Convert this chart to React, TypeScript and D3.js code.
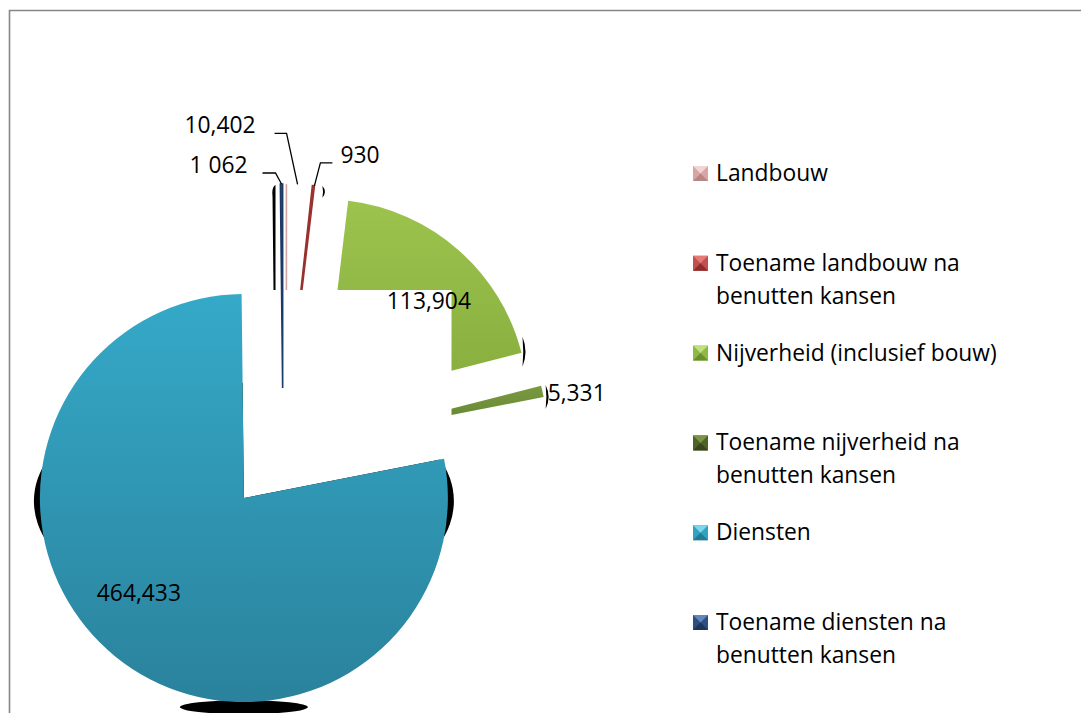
import React from "react"
import * as d3 from "d3"

// data
const categories = [
  "Landbouw",
  "Toename landbouw na benutten kansen",
  "Nijverheid (inclusief bouw)",
  "Toename nijverheid na benutten kansen",
  "Diensten",
  "Toename diensten na benutten kansen",
]
const legendLines = [
  ["Landbouw"],
  ["Toename landbouw na", "benutten kansen"],
  ["Nijverheid (inclusief bouw)"],
  ["Toename nijverheid na", "benutten kansen"],
  ["Diensten"],
  ["Toename diensten na", "benutten kansen"],
]
const values = [10402, 930, 113904, 5331, 464433, 1062]
const valueLabels = ["10,402", "930", "113,904", "5,331", "464,433", "1 062"]

// slice fills: [top, bottom]
const sliceFills = [
  ["#ffffff", "#ffffff"],
  ["#b03a37", "#98302d"],
  ["#9cc34d", "#86ad3d"],
  ["#7a9a40", "#5f7d2e"],
  ["#35a9c8", "#2a829c"],
  ["#2a4f80", "#1c3a66"],
]
// legend swatch: [face, top, bottom]
const swatchFills = [
  ["#d9a5a4", "#f2d4d3", "#b98584"],
  ["#c0504d", "#e57a77", "#8e2d2b"],
  ["#8fb847", "#bfe07a", "#6a8f2e"],
  ["#4f6228", "#7d9445", "#38461b"],
  ["#31a2c0", "#7cd6ec", "#207b93"],
  ["#2c4e80", "#6287bd", "#1b355c"],
]

const W = 1081
const H = 713
const R = 204
const explode = 62
const cx = 283
const cy = 450
const font = "'Open Sans', 'DejaVu Sans', sans-serif"
const fs = 22.8

function crescent(x: number, y: number, h: number, w: number, dir: number) {
  return `M${x},${y - h / 2} Q${x + dir * w * 2},${y} ${x},${y + h / 2} Q${x + dir * w * 0.5},${y} ${x},${y - h / 2}Z`
}

export default function App() {
  const pie = d3
    .pie<number>()
    .sort(null)
    .value((d) => d)
    .startAngle(0)
    .endAngle(2 * Math.PI)
  const arcs = pie(values)
  const arcGen = d3.arc<d3.PieArcDatum<number>>().innerRadius(0).outerRadius(R)
  const bigArc = d3.arc<d3.PieArcDatum<number>>().innerRadius(0).outerRadius(R + 30)

  const slices = arcs.map((a, i) => {
    const mid = (a.startAngle + a.endAngle) / 2
    const ox = cx + explode * Math.sin(mid)
    const oy = cy - explode * Math.cos(mid)
    const at = (ang: number, r: number) => [ox + r * Math.sin(ang), oy - r * Math.cos(ang)]
    return { a, i, mid, ox, oy, at, d: arcGen(a) as string }
  })

  const [land, landUp, nijv, nijvUp, dien, dienUp] = slices

  // leader lines for the small slices
  const tip0 = land.at(land.mid, R)
  const tip1 = landUp.at(landUp.a.endAngle, R)
  const tip5 = dienUp.at(dienUp.mid, R)
  const leaders = [
    { p: tip0, elbow: [tip0[0] - 11, tip0[1] - 51], end: [tip0[0] - 23, tip0[1] - 51], label: valueLabels[0], anchor: "end", tx: -31 },
    { p: tip1, elbow: [tip1[0] + 6, tip1[1] - 23], end: [tip1[0] + 18, tip1[1] - 23], label: valueLabels[1], anchor: "start", tx: 20 },
    { p: tip5, elbow: [tip5[0] - 6, tip5[1] - 11], end: [tip5[0] - 19, tip5[1] - 11], label: valueLabels[5], anchor: "end", tx: -28 },
  ]

  const nijvCorner = nijv.at(nijv.a.endAngle, R)
  const nijvUpTip = nijvUp.at(nijvUp.a.endAngle, R)

  return (
    <svg width={W} height={H} style={{ position: "absolute", left: 0, top: 0, background: "#fff" }} fontFamily={font}>
      <defs>
        {slices.map((s) => (
          <linearGradient key={s.i} id={"g" + s.i} x1="0" y1="0" x2="0" y2="1">
            <stop offset="0" stopColor={sliceFills[s.i][0]} />
            <stop offset="1" stopColor={sliceFills[s.i][1]} />
          </linearGradient>
        ))}
        {slices.map((s) => (
          <clipPath key={s.i} id={"c" + s.i}>
            <path d={s.d} transform={`translate(${s.ox},${s.oy})`} />
          </clipPath>
        ))}
        <clipPath id="dienWedge">
          <path d={bigArc(dien.a) as string} transform={`translate(${dien.ox},${dien.oy})`} />
        </clipPath>
        <linearGradient id="rimBlue" x1="0" y1="0" x2="0" y2="1">
          <stop offset="0" stopColor="#7fdcf2" stopOpacity="0.9" />
          <stop offset="0.6" stopColor="#4fb9d4" stopOpacity="0.5" />
          <stop offset="1" stopColor="#1d6378" stopOpacity="0.8" />
        </linearGradient>
        <linearGradient id="rimGreen" x1="0" y1="0" x2="0" y2="1">
          <stop offset="0" stopColor="#c8e58c" stopOpacity="0.9" />
          <stop offset="1" stopColor="#6d9030" stopOpacity="0.8" />
        </linearGradient>
      </defs>

      {/* chart frame */}
      <path d={`M9.5,${H} V10.5 H${W}`} fill="none" stroke="#878787" strokeWidth={1.6} />

      {/* 3d side shading of the big slice */}
      <g clipPath="url(#dienWedge)">
        <ellipse cx={dien.ox} cy={dien.oy + 3} rx={R + 6} ry={118} fill="#000" />
      </g>
      <ellipse cx={dien.ox} cy={dien.oy + R + 5} rx={64} ry={7} fill="#000" />

      {/* slices */}
      {slices.map((s) => (
        <g key={s.i} transform={`translate(${s.ox},${s.oy})`}>
          <path
            d={s.d}
            fill={`url(#g${s.i})`}
            stroke={s.i === 1 || s.i === 5 ? sliceFills[s.i][1] : "none"}
            strokeWidth={s.i === 1 || s.i === 5 ? 1.6 : 0}
          />
        </g>
      ))}
      {/* bevel rims */}
      <path
        d={dien.d}
        transform={`translate(${dien.ox},${dien.oy})`}
        fill="none"
        stroke="url(#rimBlue)"
        strokeWidth={8}
        clipPath="url(#c4)"
      />
      <path
        d={nijv.d}
        transform={`translate(${nijv.ox},${nijv.oy})`}
        fill="none"
        stroke="url(#rimGreen)"
        strokeWidth={7}
        clipPath="url(#c2)"
      />
      <path
        d={nijvUp.d}
        transform={`translate(${nijvUp.ox},${nijvUp.oy})`}
        fill="none"
        stroke="#a9c96a"
        strokeWidth={2}
        clipPath="url(#c3)"
      />
      {/* pale edge of the Landbouw slice */}
      <line
        x1={land.ox}
        y1={land.oy}
        x2={land.at(0, R)[0]}
        y2={land.at(0, R)[1]}
        stroke="#d3a4a4"
        strokeWidth={1.6}
      />

      {/* little dark sides */}
      <path d={crescent(nijvCorner[0] + 1, nijvCorner[1] - 1, 30, 3, 1)} fill="#000" />
      <path d={crescent(nijvUpTip[0] + 2, nijvUpTip[1], 24, 3, 1)} fill="#000" />
      <path d={crescent(tip1[0] + 8, tip1[1] + 6, 12, 2.5, 1)} fill="#000" />
      <path
        d={`M${tip5[0] - 6},${tip5[1] + 1} Q${tip5[0] - 10},${tip5[1] + 3} ${tip5[0] - 9},${tip5[1] + 12} L${tip5[0] - 8},${tip5[1] + 106} L${tip5[0] - 6},${tip5[1] + 106} L${tip5[0] - 6},${tip5[1] + 1}Z`}
        fill="#000"
      />

      {/* white label area over the middle */}
      <rect x={cx + 1.5} y={cy - 160} width={167} height={155} fill="#fff" />

      {/* value labels */}
      {leaders.map((l, k) => (
        <g key={k}>
          <polyline
            points={`${l.p[0]},${l.p[1]} ${l.elbow[0]},${l.elbow[1]} ${l.end[0]},${l.end[1]}`}
            fill="none"
            stroke="#000"
            strokeWidth={1.3}
          />
          <text x={l.elbow[0] + l.tx} y={l.elbow[1]} fontSize={fs} textAnchor={l.anchor as any}>
            {l.label}
          </text>
        </g>
      ))}
      <text x={nijv.ox + 105} y={nijv.oy - 94} fontSize={fs} textAnchor="middle">
        {valueLabels[2]}
      </text>
      <text x={nijvUpTip[0] + 4} y={nijvUpTip[1] + 4} fontSize={fs}>
        {valueLabels[3]}
      </text>
      <text x={dien.ox - 105} y={dien.oy + 103} fontSize={fs} textAnchor="middle">
        {valueLabels[4]}
      </text>

      {/* legend */}
      {categories.map((c, i) => {
        const y = 181 + i * 89.8
        const x0 = 693
        const s = 15
        const sw = swatchFills[i]
        return (
          <g key={c}>
            <rect x={x0} y={y - s} width={s} height={s} fill={sw[0]} />
            <path d={`M${x0},${y - s} H${x0 + s} L${x0 + s / 2},${y - s / 2}Z`} fill={sw[1]} />
            <path d={`M${x0},${y} H${x0 + s} L${x0 + s / 2},${y - s / 2}Z`} fill={sw[2]} />
            {legendLines[i].map((t, j) => (
              <text key={j} x={716} y={y + j * 33} fontSize={fs}>
                {t}
              </text>
            ))}
          </g>
        )
      })}
    </svg>
  )
}
